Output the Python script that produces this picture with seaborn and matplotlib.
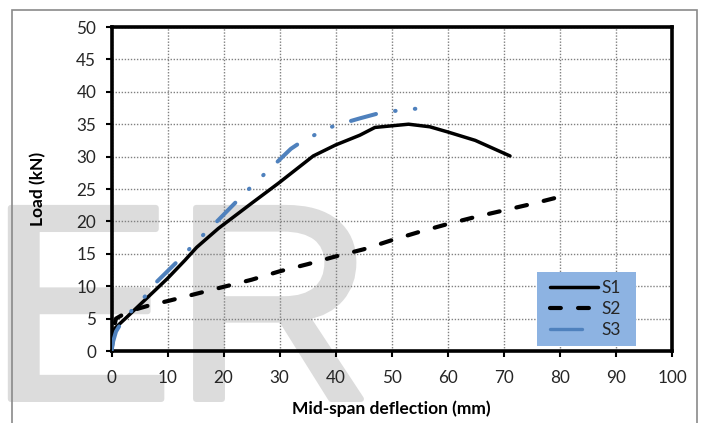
import matplotlib
matplotlib.use("Agg")
import matplotlib.pyplot as plt
import matplotlib.patheffects as pe
import numpy as np
import seaborn as sns
import pandas as pd
from matplotlib.patches import Rectangle
from matplotlib.legend_handler import HandlerLine2D

# ---- data ----
s1_x = [0, 0.2, 0.6, 2.7, 6.6, 10.0, 13.1, 15.2, 19.05, 25.0, 29.8, 36.0, 40.0, 44.3, 47.0, 53.0, 56.8, 60.0, 64.9, 71.1]
s1_y = [0, 2.0, 3.5, 5.2, 8.4, 11.2, 14.0, 16.0, 18.9, 22.8, 25.9, 30.1, 31.8, 33.3, 34.5, 35.0, 34.6, 33.8, 32.5, 30.1]

s2_x = [0, 0.4, 0.8, 3.0, 7.0, 10.0, 15.0, 20.0, 25.0, 30.0, 35.0, 40.0, 45.0, 50.0, 55.0, 60.0, 65.0, 70.0, 75.0, 80.0]
s2_y = [0, 3.5, 5.0, 6.1, 7.1, 7.7, 8.8, 9.9, 11.0, 12.3, 13.4, 14.6, 15.7, 17.1, 18.4, 19.6, 20.7, 21.7, 22.7, 23.8]

s3_x = [0, 0.3, 0.8, 1.5, 2.5, 4.2, 6.3, 8.1, 12.2, 14.5, 16.7, 19.05, 22.9, 25.1, 27.4, 29.6, 32.0, 33.9, 36.6, 39.3, 42.3, 44.3, 47.3, 50.1, 53.1, 57.3]
s3_y = [0, 1.5, 3.0, 4.0, 5.0, 6.9, 8.7, 10.7, 14.2, 16.3, 18.2, 20.2, 23.6, 25.5, 27.4, 29.2, 31.2, 32.3, 33.5, 34.6, 35.4, 35.9, 36.6, 37.0, 37.3, 37.6]

series_names = ["S1", "S2", "S3"]
x_ticks = list(range(0, 101, 10))
y_ticks = list(range(0, 51, 5))

# ---- style ----
sns.set_style("white")
plt.rcParams["lines.scale_dashes"] = False
plt.rcParams["font.family"] = ["Lato", "DejaVu Sans"]

W, H = 701, 423
fig = plt.figure(figsize=(W / 100, H / 100), dpi=100)
fig.patch.set_facecolor("white")

ax_l, ax_r, ax_t, ax_b = 111.5, 672, 27, 351
ax = fig.add_axes([ax_l / W, (H - ax_b) / H, (ax_r - ax_l) / W, (ax_b - ax_t) / H])
ax.set_facecolor("none")

# watermark
wm = fig.text(-12 / W, 24 / H, "ER", fontsize=200, family=["Liberation Sans", "DejaVu Sans"],
              color="#dcdcdc", ha="left", va="baseline", zorder=-5)
wm.set_path_effects([pe.withStroke(linewidth=4.3, foreground="#dcdcdc")])
# outer frame
fig.add_artist(Rectangle((12 / W, -0.05), (697 - 12) / W, 1.05 - 10 / H,
                         transform=fig.transFigure, fill=False,
                         edgecolor="#8a8a8a", lw=1.2, zorder=-4))

df1 = pd.DataFrame({"x": s1_x, "y": s1_y})
df2 = pd.DataFrame({"x": s2_x, "y": s2_y})
df3 = pd.DataFrame({"x": s3_x, "y": s3_y})

sns.lineplot(data=df1, x="x", y="y", ax=ax, color="black", lw=2.5, sort=False,
             estimator=None, label=series_names[0], solid_joinstyle="round",
             solid_capstyle="round", zorder=3)
sns.lineplot(data=df2, x="x", y="y", ax=ax, color="black", lw=3.0, sort=False,
             estimator=None, label=series_names[1], linestyle=(0, (7.8, 12.4)),
             dash_capstyle="round", zorder=3)
sns.lineplot(data=df3, x="x", y="y", ax=ax, color="#4F81BD", lw=2.9, sort=False,
             estimator=None, label=series_names[2],
             linestyle=(0, (18.7, 13.9, 0.4, 13.9, 0.4, 13.9)),
             dash_capstyle="round", zorder=3)

ax.set_xlim(0, 100)
ax.set_ylim(0, 50)
ax.set_xticks(x_ticks)
ax.set_yticks(y_ticks)
ax.grid(True, color="#808080", linestyle=(0, (1, 1.2)), linewidth=1.0, zorder=1)
ax.set_axisbelow(True)
for sp in ax.spines.values():
    sp.set_visible(True)
    sp.set_color("black")
    sp.set_linewidth(2.6)
ax.tick_params(axis="both", direction="out", length=4, width=1.5, color="black",
               labelsize=12.3, labelcolor="#262626", bottom=True, left=True)
ax.tick_params(axis="x", pad=10)
ax.tick_params(axis="y", pad=7)

ax.set_xlabel("Mid-span deflection (mm)", fontsize=12.5, fontweight="bold", color="black")
ax.set_ylabel("Load (kN)", fontsize=12.5, fontweight="bold", color="black")
ax.xaxis.set_label_coords(0.5, (ax_b - 400) / (ax_b - ax_t))
ax.yaxis.set_label_coords((46 - ax_l) / (ax_r - ax_l), 0.5)

# legend
bx0 = (537 - ax_l) / (ax_r - ax_l)
by0 = (ax_b - 346) / (ax_b - ax_t)
bw = (636 - 537) / (ax_r - ax_l)
bh = (346 - 272) / (ax_b - ax_t)
ax.add_patch(Rectangle((bx0, by0), bw, bh, transform=ax.transAxes,
                       facecolor="#8DB3E2", edgecolor="none", zorder=4))


def short_solid(legend_handle, orig_handle):
    legend_handle.update_from(orig_handle)
    legend_handle.set_linestyle("-")
    legend_handle.set_linewidth(2.4)
    legend_handle.set_solid_capstyle("round")
    xd = np.asarray(legend_handle.get_xdata(), dtype=float)
    legend_handle.set_xdata(np.linspace(xd[0], xd[0] + (xd[-1] - xd[0]) * 0.68, len(xd)))


handles, labels = ax.get_legend_handles_labels()
leg = ax.legend(handles, labels, loc="center", bbox_to_anchor=(bx0 + bw / 2 - 0.002, by0 + bh / 2),
                frameon=False, fontsize=12.5, handlelength=2.75, handletextpad=0.2,
                labelspacing=0.3, borderpad=0, borderaxespad=0,
                handler_map={handles[2]: HandlerLine2D(update_func=short_solid)})
leg.set_zorder(5)

fig.savefig("out.png", dpi=100)
